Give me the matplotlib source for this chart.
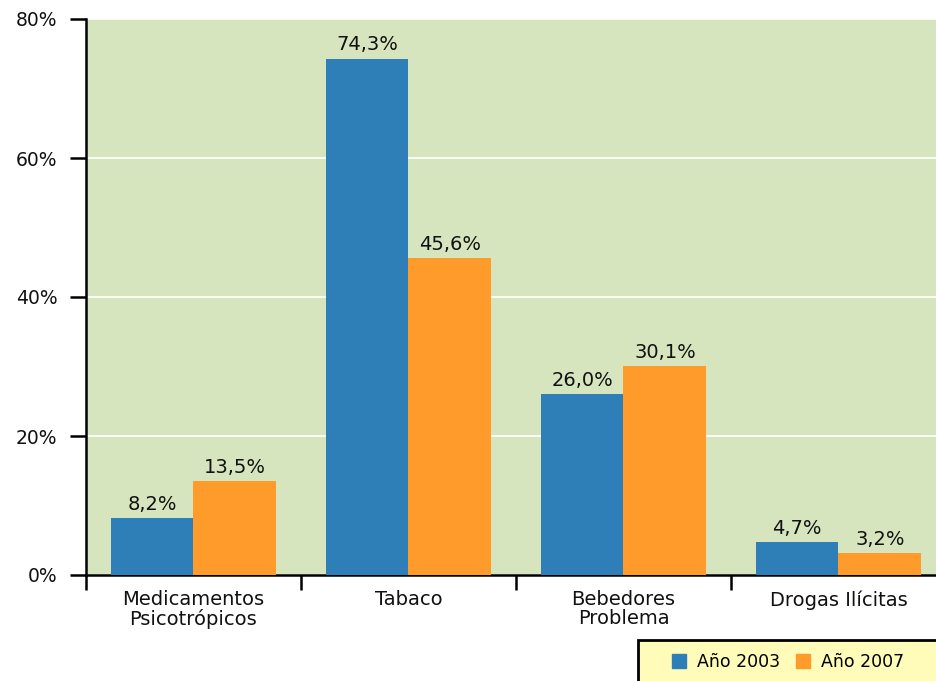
import numpy as np
import matplotlib
matplotlib.use("Agg")
import matplotlib.pyplot as plt
from matplotlib.patches import Rectangle, Patch

# consumo por tipo de sustancia, 2003 vs 2007
categorias = ["Medicamentos\nPsicotrópicos", "Tabaco", "Bebedores\nProblema", "Drogas Ilícitas"]
anio_2003 = [8.2, 74.3, 26.0, 4.7]
anio_2007 = [13.5, 45.6, 30.1, 3.2]
series = ["Año 2003", "Año 2007"]
yticks = [0, 20, 40, 60, 80]

azul = "#2E7FB8"
naranja = "#FF9B2A"
fondo = "#D6E5BD"

plt.rcParams["font.family"] = ["DejaVu Sans"]

fig = plt.figure(figsize=(9.37, 6.81), dpi=100)
ax = fig.add_axes([86/937, 1 - 575/681, 860/937, 556/681])
ax.set_facecolor(fondo)

x = np.arange(len(categorias))
w = 0.385
b1 = ax.bar(x - w/2, anio_2003, w, color=azul, zorder=3)
b2 = ax.bar(x + w/2, anio_2007, w, color=naranja, zorder=3)

for barras, vals in [(b1, anio_2003), (b2, anio_2007)]:
    for b, v in zip(barras, vals):
        ax.text(b.get_x() + b.get_width()/2, v + 0.6, "{:.1f}%".format(v).replace(".", ","),
                ha="center", va="bottom", fontsize=14, color="#111111", zorder=4)

ax.set_xlim(-0.5, len(categorias) - 0.5)
ax.set_ylim(0, 80)
ax.set_yticks(yticks)
ax.set_yticklabels(["{}%".format(t) for t in yticks], fontsize=13.5, color="#111111")
ax.yaxis.grid(True, color="white", linewidth=1.2, zorder=1)
ax.set_axisbelow(True)

# ticks del eje x en los limites de cada grupo
ax.set_xticks(np.arange(len(categorias) + 1) - 0.5)
ax.set_xticklabels([])
ax.set_xticks(x, minor=True)
ax.set_xticklabels(categorias, minor=True, fontsize=14, linespacing=1.0, color="#111111")
ax.tick_params(axis="x", which="minor", length=0, pad=11)
ax.tick_params(axis="x", which="major", length=11, width=1.8, direction="out")
ax.tick_params(axis="y", length=11.5, width=1.8, direction="out", pad=9)

for s in ["top", "right"]:
    ax.spines[s].set_visible(False)
ax.spines["left"].set_linewidth(1.8)
ax.spines["bottom"].set_linewidth(1.8)

# recuadro de la leyenda
fig.patches.append(Rectangle((638/937, -0.01), 0.4, (681 - 640)/681 + 0.01,
                             transform=fig.transFigure, facecolor="#FFFBB9",
                             edgecolor="black", linewidth=2, zorder=5))
handles = [Patch(color=azul), Patch(color=naranja)]
leg = fig.legend(handles, series, loc="center left", frameon=False,
                 bbox_to_anchor=(656/937, 1 - 662/681), ncol=2, fontsize=12.5,
                 handlelength=0.85, handleheight=0.85, handletextpad=0.6,
                 columnspacing=0.9)
leg.set_zorder(6)

fig.savefig("out.png", dpi=100)
